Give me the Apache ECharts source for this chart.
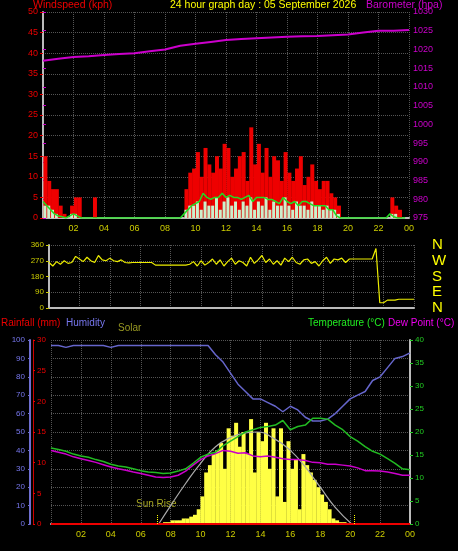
<!DOCTYPE html>
<html><head><meta charset="utf-8">
<script src="https://cdn.jsdelivr.net/npm/echarts@6/dist/echarts.min.js"></script>
<style>html,body{margin:0;background:#000}#c{width:458px;height:551px}</style></head>
<body><div id="c"></div>
<script>
const hourTicks=['02','04','06','08','10','12','14','16','18','20','22','00'];
const gust=[15,9,7,7, 3,1,0,3, 5,5,0,0, 0,5,0,0,
0,0,0,0,0,0,0,0,0,0,0,0,0,0,0,0,0,0,0,0,
0,7,11,12, 16,10,17,13, 11,15,12,18, 17,10,12,15, 16,9,22,13, 18,11,17,10, 15,14,9,16, 11,9,12,15, 8,10,13,9, 7,9,9,6,
5,3,0,0, 0,0,0,0,0,0,0,0, 0,0,0,5, 3,2,0,0];
const wind=[3,3,2,1, 0,0,0,1, 1,0,0,0, 0,0,0,0,
0,0,0,0,0,0,0,0,0,0,0,0,0,0,0,0,0,0,0,0,
0,2,3,3, 4,2,4,3, 3,5,2,4, 5,3,4,2, 4,3,5,2, 4,3,5,2, 4,3,3,5, 3,2,4,3, 3,2,4,3, 3,2,3,2,
2,1,0,0, 0,0,0,0,0,0,0,0, 0,0,0,1, 1,0,0,0];
const windAvg=[4,3,2,1, 0.5,0.3,0,0.5, 1,0.5,0,0, 0,0,0,0,
0,0,0,0,0,0,0,0,0,0,0,0,0,0,0,0,0,0,0,0,
0,1,2,3, 3.5,4,6,5, 4.5,5,5,6, 5,5.5,5,5, 4.5,5,5.5,4, 5,5,5,4.5, 4.5,4,3.5,5, 4,3.5,4,3, 4,4,3.5,3, 3,3,3,2,
2,0.5,0,0, 0,0,0,0,0,0,0,0, 0,0,0,1, 0.3,0,0,0];
const baro=[1017,1017.5,1018,1018.2,1018.5,1018.8,1019,1019.5,1020,1021,1021.5,1022,1022.5,1022.8,1023,1023.2,1023.4,1023.5,1023.6,1023.8,1024,1024.5,1025,1025,1025.2];
const dir=[260,240,265,250,270,255,260,295,280,265,290,270,260,300,275,270,285,270,265,275,
260,258,260,260,260,260,260,260, 245,245,245,245,245,245,245,245,245,
250,265,240, 270,245,260,280, 250,275,240,265, 285,250,270,260, 240,290,255,275, 300,260,280,250, 270,245,285,265, 290,260,250,275, 280,255,265,240, 270,290,255,280, 275,285,260,280,
280,280,280,280,280,280, 340,30,30,45,45,45,50,50,50,50,50];
const humidity=[97,97,96,97,97,97,97,97,96,97,97,97,97,97,97,97,97,97,97,97,97,97,
92,88,82,76,72,68,68,66,64,61,64,62,58,56,56,57,60,64,68,70,72,78,80,85,90,91,93];
const temperature=[16.5,16.2,15.8,15.2,14.8,14.5,14,13.6,13,12.6,12.4,12,11.6,11.3,11.2,11,11.1,11.5,12,13.2,14.5,15.2,15.6,17,18,19,20,20.5,21,21.2,21.5,22.5,20.5,21.2,21.5,23,23,22.8,21.5,20.5,19,18,16.8,15.8,15.2,14.2,13.2,12,11.8];
const dewPoint=[16,15.6,15.2,14.6,14.2,13.8,13.4,12.9,12.4,12,11.7,11.3,11,10.6,10.2,10.1,10.2,10.6,11.5,12.8,14,14.8,15.3,16,15.8,15.4,15.5,14.8,14.6,14.8,14.5,14.2,14,14,13.8,13.4,13.3,13,13,12.8,12.6,12.2,11.6,11.6,11.5,11.3,11,10.6,10.6];
const solar=[0,0,0,0,0,0,0,0,0,0,0,0,0,0,0,0,0,0,0,0,0,0,0,0,0,0,0,0,0,0,
1,1,2,2,2,3,3,4,5,8,15,28,32,38,40,44,30,52,48,55,42,50,38,57,28,50,45,55,30,52,15,52,12,45,30,35,8,38,32,28,24,20,16,12,8,3,2,1,1,0,
0,0,0,0,0,0,0,0,0,0,0,0,0,0,0,0];
const sunHours=[7.2,8,9,10,11,12,13,13.75,15,16,17,18,19,20.1];
const sunVals=[0,10,22,33,42,47,49.5,50,46,40,31,20,9,0];
const sunMarks=[7.1,20.3];
const rainfall=[0,0,0,0,0,0,0,0,0,0,0,0,0,0,0,0,0,0,0,0,0,0,0,0,0];

const q=(a)=>a.map((v,i)=>[i/4+0.125,v]);
const qp=(a)=>a.map((v,i)=>[i/4,v]);
const hh=(a)=>a.map((v,i)=>[i/2,v]);
const h1=(a)=>a.map((v,i)=>[i,v]);
const grid='#555';
function xAx(gi,show){return {type:'value',gridIndex:gi,min:0,max:24,interval:2,
 axisLine:{show:true,onZero:false,lineStyle:{color:'#bbb',width:2}},axisTick:{show:false},
 splitLine:{show:true,lineStyle:{color:grid,type:'dotted'}},
 axisLabel:{show:show,color:'#cccc00',fontSize:9,margin:6,formatter:function(v){return v===0?'':(hourTicks[v/2-1]||'');}}};}
function yAx(gi,o){const b={type:'value',gridIndex:gi,
 axisLine:{show:true,onZero:false,lineStyle:{color:'#bbb',width:2}},
 axisTick:{show:true,length:3},
 splitLine:{show:true,lineStyle:{color:grid,type:'dotted'}}};
 for(const k in o) b[k]=o[k]; return b;}
const option={
 backgroundColor:'#000',animation:false,
 grid:[{left:43,right:49,top:12,height:206},{left:49,right:44,top:245,height:63},{left:51,right:48,top:340,height:184}],
 xAxis:[xAx(0,true),xAx(1,false),xAx(2,true)],
 yAxis:[
  yAx(0,{position:'left',min:0,max:50,interval:5,axisLabel:{color:'#e00',fontSize:9,margin:5},axisTick:{show:true,length:3,lineStyle:{color:'#e00'}}}),
  yAx(0,{position:'right',min:975,max:1030,interval:5,splitLine:{show:false},axisLine:{show:false},axisLabel:{color:'#cc00cc',fontSize:9,margin:4,formatter:function(v){return String(v);}},axisTick:{show:true,length:3,lineStyle:{color:'#cc00cc'}}}),
  yAx(1,{position:'left',min:0,max:360,interval:90,axisLabel:{color:'#cccc00',fontSize:8,margin:5},axisTick:{show:true,length:3,lineStyle:{color:'#cccc00'}}}),
  yAx(1,{position:'right',min:0,max:360,interval:90,offset:10,splitLine:{show:false},axisLine:{show:false},axisTick:{show:false},axisLabel:{color:'#ffff00',fontSize:15,formatter:function(v){return ({0:'N',90:'E',180:'S',270:'W',360:'N'})[v]||'';}}}),
  yAx(2,{position:'left',min:0,max:100,interval:10,offset:21,axisLine:{show:true,onZero:false,lineStyle:{color:'#6f6fd0',width:2}},axisLabel:{color:'#7777ee',fontSize:8,margin:5},axisTick:{show:true,length:2,lineStyle:{color:'#6f6fd0'}}}),
  yAx(2,{position:'left',min:0,max:30,interval:5,offset:18,splitLine:{show:false},axisLine:{show:true,onZero:false,lineStyle:{color:'#c00',width:1}},axisLabel:{inside:true,color:'#e00',fontSize:8,margin:4},axisTick:{show:true,inside:true,length:2,lineStyle:{color:'#e00'}}}),
  yAx(2,{position:'right',min:0,max:40,interval:5,splitLine:{show:false},axisLabel:{color:'#22cc22',fontSize:8,margin:5},axisTick:{show:true,length:3,lineStyle:{color:'#22cc22'}}}),
  {type:'value',gridIndex:2,min:0,max:100,show:false}
 ],
 series:[
  {type:'bar',xAxisIndex:0,yAxisIndex:0,data:q(gust),barWidth:4,barGap:'-100%',itemStyle:{color:'#ee0000'}},
  {type:'bar',xAxisIndex:0,yAxisIndex:0,data:q(wind),barWidth:3,barGap:'-100%',itemStyle:{color:'#ccf0cc'}},
  {type:'line',xAxisIndex:0,yAxisIndex:0,data:qp(windAvg),symbol:'none',lineStyle:{color:'#22dd22',width:1.5}},
  {type:'line',xAxisIndex:0,yAxisIndex:1,data:h1(baro),symbol:'none',lineStyle:{color:'#cc00cc',width:2}},
  {type:'line',xAxisIndex:1,yAxisIndex:2,data:qp(dir),symbol:'none',lineStyle:{color:'#eeee00',width:1.2}},
  {type:'bar',xAxisIndex:2,yAxisIndex:7,data:q(solar),barWidth:4,itemStyle:{color:'#ffff44'},
   markLine:{symbol:'none',silent:true,label:{show:false},lineStyle:{color:'#ffff00',type:'dotted',width:1},
    data:sunMarks.map(m=>[{coord:[m,0]},{coord:[m,5]}])}},
  {type:'line',xAxisIndex:2,yAxisIndex:7,data:sunHours.map((h,i)=>[h,sunVals[i]]),symbol:'none',smooth:true,lineStyle:{color:'#aaaaaa',width:1.2}},
  {type:'line',xAxisIndex:2,yAxisIndex:5,data:h1(rainfall),symbol:'none',lineStyle:{color:'#ee0000',width:2}},
  {type:'line',xAxisIndex:2,yAxisIndex:4,data:hh(humidity),symbol:'none',lineStyle:{color:'#6666cc',width:1.5}},
  {type:'line',xAxisIndex:2,yAxisIndex:6,data:hh(dewPoint),symbol:'none',lineStyle:{color:'#cc00cc',width:1.5}},
  {type:'line',xAxisIndex:2,yAxisIndex:6,data:hh(temperature),symbol:'none',lineStyle:{color:'#22bb22',width:1.5}}
 ],
 graphic:[
  {type:'text',left:33,top:0,style:{text:'Windspeed (kph)',fill:'#ee0000',font:'10.5px Arial'}},
  {type:'text',left:170,top:0,style:{text:'24 hour graph day : 05 September 2026',fill:'#ffff00',font:'10.5px Arial'}},
  {type:'text',left:366,top:0,style:{text:'Barometer (hpa)',fill:'#cc00cc',font:'10.5px Arial'}},
  {type:'text',left:1,top:318,style:{text:'Rainfall (mm)',fill:'#ee0000',font:'10px Arial'}},
  {type:'text',left:66,top:318,style:{text:'Humidity',fill:'#7777ee',font:'10px Arial'}},
  {type:'text',left:118,top:323,style:{text:'Solar',fill:'#999922',font:'10px Arial'}},
  {type:'text',left:308,top:318,style:{text:'Temperature (°C)',fill:'#22ee22',font:'10px Arial'}},
  {type:'text',left:388,top:318,style:{text:'Dew Point (°C)',fill:'#ee00ee',font:'10px Arial'}},
  {type:'text',left:136,top:499,style:{text:'Sun Rise',fill:'#aaaa22',font:'10px Arial'}}
 ]
};
const chart=echarts.init(document.getElementById('c'));
chart.setOption(option);
</script></body></html>
